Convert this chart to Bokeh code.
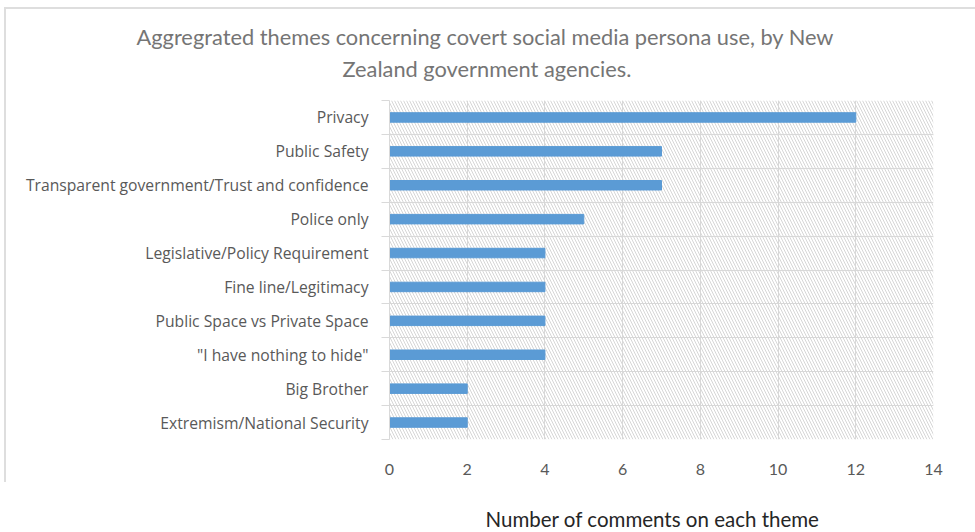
from bokeh.plotting import figure
from bokeh.models import Range1d, FixedTicker, BoxAnnotation, Title, InlineStyleSheet
from bokeh.embed import file_html
from bokeh.resources import INLINE

categories = [
    "Privacy",
    "Public Safety",
    "Transparent government/Trust and confidence",
    "Police only",
    "Legislative/Policy Requirement",
    "Fine line/Legitimacy",
    "Public Space vs Private Space",
    "\"I have nothing to hide\"",
    "Big Brother",
    "Extremism/National Security",
]
comments = [12, 7, 7, 5, 4, 4, 4, 4, 2, 2]
x_ticks = [0, 2, 4, 6, 8, 10, 12, 14]
title_lines = ["Aggregrated themes concerning covert social media persona use, by New",
               "Zealand government agencies."]
x_title = "Number of comments on each theme"

n = len(categories)
centers = [n - 0.5 - i for i in range(n)]
bounds = list(range(n + 1))

NARROW = "Lato"

# light chart-area frame (top and left edges), as in the cropped original
frame_css = InlineStyleSheet(css="""
:host { position: relative; }
:host::before {
  content: ""; position: absolute; left: 4px; top: 7px; width: 980px; height: 473px;
  border-top: 2px solid #dedede; border-left: 2px solid #dedede; pointer-events: none; z-index: 5;
}
""")

p = figure(width=975, height=532, output_backend="svg", toolbar_location=None,
           x_range=Range1d(0, 14), y_range=Range1d(0, n),
           frame_width=544, frame_height=339,
           min_border_left=389, min_border_right=42, min_border_top=100, min_border_bottom=93,
           stylesheets=[frame_css])
p.outline_line_color = None
p.background_fill_color = "white"

hatch = BoxAnnotation(fill_color=None, line_color=None, hatch_pattern="\\",
                      hatch_color="#d6d6d6", hatch_scale=6, hatch_weight=1, level="underlay")
p.add_layout(hatch)

p.hbar(y=centers, right=comments, left=0, height=0.28, color="#5B9BD5")

# grids
p.xgrid.ticker = FixedTicker(ticks=x_ticks)
p.xgrid.grid_line_color = "#d9d9d9"
p.ygrid.ticker = FixedTicker(ticks=bounds)
p.ygrid.grid_line_color = "#d9d9d9"

# x axis
xa = p.xaxis[0]
xa.ticker = FixedTicker(ticks=x_ticks)
xa.axis_line_color = None
xa.major_tick_line_color = None
xa.minor_tick_line_color = None
xa.major_label_text_font = NARROW
xa.major_label_text_font_size = "16px"
xa.major_label_text_color = "#595959"
xa.major_label_standoff = 18

# x-axis title placed below the tick labels
p.add_layout(Title(text=x_title, align="left", offset=96, standoff=54,
                   text_font=NARROW, text_font_size="20.5px", text_font_style="normal",
                   text_color="#262626"), "below")

# y axis
ya = p.yaxis[0]
ya.ticker = FixedTicker(ticks=centers, minor_ticks=bounds)
ya.major_label_overrides = {c: name for c, name in zip(centers, categories)}
ya.axis_line_color = "#d9d9d9"
ya.major_tick_line_color = None
ya.major_tick_out = 0
ya.major_tick_in = 0
ya.minor_tick_line_color = "#d9d9d9"
ya.minor_tick_out = 8
ya.minor_tick_in = 0
ya.major_label_text_font = "Open Sans"
ya.major_label_text_font_size = "15.7px"
ya.major_label_text_color = "#595959"
ya.major_label_standoff = 13

# spacer between frame and title, then the two title lines (nearest first)
p.add_layout(Title(text=" ", text_font_size="1px", standoff=12), "above")
for line, offset, standoff in [(title_lines[1], -47, 7), (title_lines[0], -253, 0)]:
    p.add_layout(Title(text=line, align="left", offset=offset, standoff=standoff,
                       text_font=NARROW, text_font_size="21.8px", text_font_style="normal",
                       text_color="#757575"), "above")

open("out.html", "w").write(file_html(p, INLINE))
